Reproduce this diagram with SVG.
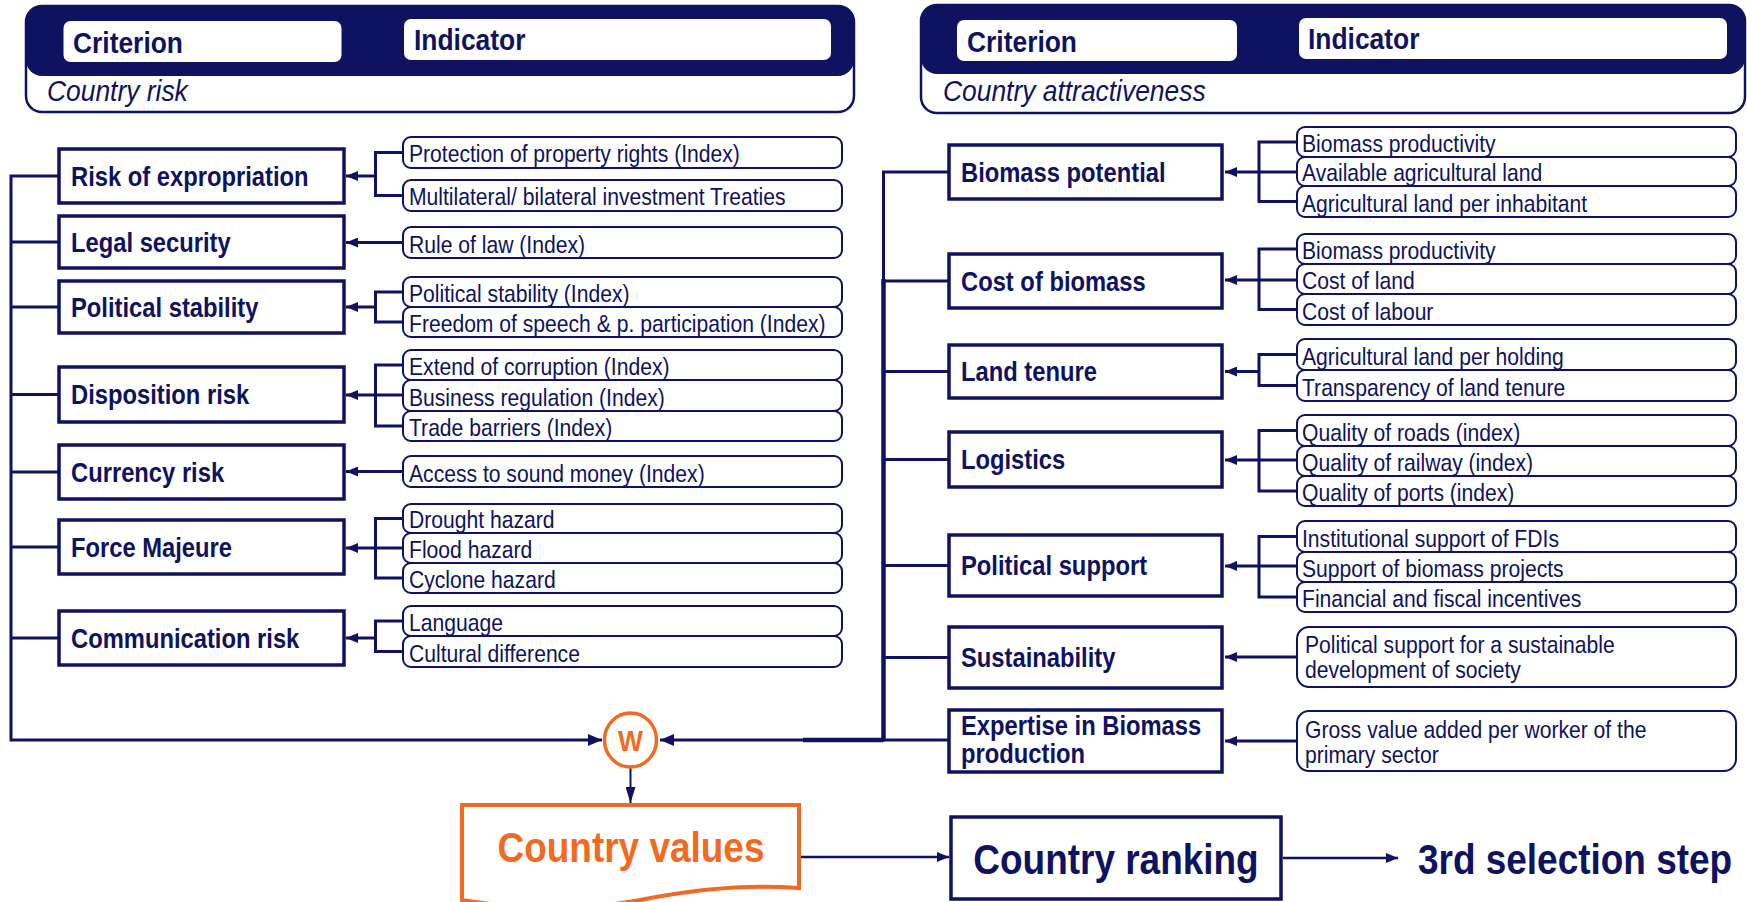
<svg xmlns="http://www.w3.org/2000/svg" width="1747" height="902" viewBox="0 0 1747 902">
<style>
text { font-family: "Liberation Sans", Arial, sans-serif; fill: #0E1260; transform-box: fill-box; transform-origin: 0% 50%; transform: scaleX(0.88); }
text.c { transform-origin: 50% 50%; text-anchor: middle; }
.hd { font-size: 30px; font-weight: bold; }
.it { font-size: 30px; font-style: italic; }
.cr { font-size: 27px; font-weight: bold; }
.in { font-size: 24px; }
.big { font-size: 42px; font-weight: bold; }
.wt { font-size: 30px; font-weight: bold; }
.or { fill: #F26A21; }
.crit rect { fill: #fff; stroke: #0E1260; stroke-width: 3.5; }
.ind rect { fill: #fff; stroke: #0E1260; stroke-width: 2; }
.con path { fill: none; stroke: #0E1260; stroke-width: 3; }
</style>
<defs>
<marker id="ah" viewBox="0 0 12 10" refX="12" refY="5" markerWidth="12" markerHeight="10" markerUnits="userSpaceOnUse" orient="auto"><path d="M0,0 L12,5 L0,10 z" fill="#0E1260"/></marker>
<marker id="ah2" viewBox="0 0 14 12" refX="14" refY="6" markerWidth="14" markerHeight="12" markerUnits="userSpaceOnUse" orient="auto"><path d="M0,0 L14,6 L0,12 z" fill="#0E1260"/></marker>
<marker id="ah3" viewBox="0 0 10 16" refX="5" refY="16" markerWidth="10" markerHeight="16" markerUnits="userSpaceOnUse" orient="0"><path d="M0,0 L10,0 L5,16 z" fill="#0E1260"/></marker>
</defs>
<rect width="1747" height="902" fill="#fff"/>

<!-- Headers -->
<g id="header-risk">
<rect x="26" y="6" width="828" height="106" rx="16" fill="#fff" stroke="#0E1260" stroke-width="2.5"/>
<rect x="26" y="6" width="828" height="70" rx="16" fill="#0E1260"/>
<rect x="63.5" y="21" width="278" height="41" rx="7" fill="#fff"/>
<rect x="404" y="19" width="427" height="41" rx="7" fill="#fff"/>
<text class="hd" x="73" y="53">Criterion</text>
<text class="hd" x="414" y="50">Indicator</text>
<text class="it" x="47" y="101">Country risk</text>
</g>
<g id="header-attractiveness">
<rect x="921" y="5" width="824" height="108" rx="16" fill="#fff" stroke="#0E1260" stroke-width="2.5"/>
<rect x="921" y="5" width="824" height="69" rx="16" fill="#0E1260"/>
<rect x="957" y="20" width="280" height="41" rx="7" fill="#fff"/>
<rect x="1299" y="18" width="428" height="41" rx="7" fill="#fff"/>
<text class="hd" x="967" y="52">Criterion</text>
<text class="hd" x="1308" y="49">Indicator</text>
<text class="it" x="943" y="101">Country attractiveness</text>
</g>

<!-- Connectors -->
<g id="connectors" class="con">
<path d="M403,152.5 H375.5 V195.5 H403"/>
<path d="M375.5,176 H346" marker-end="url(#ah)"/>
<path d="M403,242.5 H346" marker-end="url(#ah)"/>
<path d="M403,292 H375.5 V322 H403"/>
<path d="M375.5,307 H346" marker-end="url(#ah)"/>
<path d="M403,365 H375.5 V426 H403"/>
<path d="M403,395 H346" marker-end="url(#ah)"/>
<path d="M403,471.5 H346" marker-end="url(#ah)"/>
<path d="M403,518.5 H375.5 V578 H403"/>
<path d="M403,548 H346" marker-end="url(#ah)"/>
<path d="M403,621 H375.5 V651.5 H403"/>
<path d="M375.5,638 H346" marker-end="url(#ah)"/>

<path d="M1297,142 H1259 V201.5 H1297"/>
<path d="M1297,172 H1225" marker-end="url(#ah)"/>
<path d="M1297,249 H1259 V309.5 H1297"/>
<path d="M1297,280 H1225" marker-end="url(#ah)"/>
<path d="M1297,354.5 H1259 V385.5 H1297"/>
<path d="M1259,371.5 H1225" marker-end="url(#ah)"/>
<path d="M1297,430.5 H1259 V491 H1297"/>
<path d="M1297,460 H1225" marker-end="url(#ah)"/>
<path d="M1297,536.5 H1259 V597 H1297"/>
<path d="M1297,566 H1225" marker-end="url(#ah)"/>
<path d="M1297,657 H1225" marker-end="url(#ah)"/>
<path d="M1297,741 H1225" marker-end="url(#ah)"/>

<path d="M59,176 H11 V740 H602" marker-end="url(#ah2)"/>
<path d="M11,242 H59 M11,307 H59 M11,394.5 H59 M11,472 H59 M11,547 H59 M11,638 H59"/>
<path d="M949,172 H883.5 V740 H660" marker-end="url(#ah2)"/>
<path d="M883.5,279 V740" style="stroke-width:4.5"/>
<path d="M803,740 H883.5" style="stroke-width:4.5"/>
<path d="M883.5,281 H949 M883.5,371.5 H949 M883.5,459.5 H949 M883.5,565.5 H949 M883.5,657.5 H949 M883.5,740 H949"/>
<path d="M630.5,768 V803" style="stroke-width:2" marker-end="url(#ah3)"/>
<path d="M799,857 H949" style="stroke-width:2.5" marker-end="url(#ah)"/>
<path d="M1283,858 H1398" style="stroke-width:2.5" marker-end="url(#ah)"/>
</g>

<!-- Left criteria -->
<g id="c-expropriation" class="crit"><rect x="59" y="149" width="285" height="54"/><text class="cr" x="71" y="186">Risk of expropriation</text></g>
<g id="c-legal" class="crit"><rect x="59" y="216" width="285" height="52"/><text class="cr" x="71" y="252">Legal security</text></g>
<g id="c-polstab" class="crit"><rect x="59" y="281" width="285" height="52"/><text class="cr" x="71" y="317">Political stability</text></g>
<g id="c-disposition" class="crit"><rect x="59" y="367" width="285" height="55"/><text class="cr" x="71" y="404.5">Disposition risk</text></g>
<g id="c-currency" class="crit"><rect x="59" y="445" width="285" height="54"/><text class="cr" x="71" y="482">Currency risk</text></g>
<g id="c-force" class="crit"><rect x="59" y="520" width="285" height="54"/><text class="cr" x="71" y="557">Force Majeure</text></g>
<g id="c-communication" class="crit"><rect x="59" y="611" width="285" height="54"/><text class="cr" x="71" y="648">Communication risk</text></g>

<!-- Left indicators -->
<g id="i-property" class="ind"><rect x="403" y="137" width="439" height="31" rx="8"/><text class="in" x="409" y="162.5">Protection of property rights (Index)</text></g>
<g id="i-treaties" class="ind"><rect x="403" y="180" width="439" height="31" rx="8"/><text class="in" x="409" y="205.5">Multilateral/ bilateral investment Treaties</text></g>
<g id="i-rulelaw" class="ind"><rect x="403" y="227" width="439" height="31" rx="8"/><text class="in" x="409" y="253">Rule of law (Index)</text></g>
<g id="i-polstab" class="ind"><rect x="403" y="277" width="439" height="30" rx="8"/><text class="in" x="409" y="302.5">Political stability (Index)</text></g>
<g id="i-freedom" class="ind"><rect x="403" y="307" width="439" height="30" rx="8"/><text class="in" x="409" y="332.5">Freedom of speech &amp; p. participation (Index)</text></g>
<g id="i-corruption" class="ind"><rect x="403" y="350" width="439" height="30" rx="8"/><text class="in" x="409" y="375.5">Extend of corruption (Index)</text></g>
<g id="i-business" class="ind"><rect x="403" y="380" width="439" height="31" rx="8"/><text class="in" x="409" y="406">Business regulation (Index)</text></g>
<g id="i-trade" class="ind"><rect x="403" y="411" width="439" height="30" rx="8"/><text class="in" x="409" y="436.5">Trade barriers (Index)</text></g>
<g id="i-money" class="ind"><rect x="403" y="456" width="439" height="31" rx="8"/><text class="in" x="409" y="482">Access to sound money (Index)</text></g>
<g id="i-drought" class="ind"><rect x="403" y="504" width="439" height="29" rx="8"/><text class="in" x="409" y="528.5">Drought hazard</text></g>
<g id="i-flood" class="ind"><rect x="403" y="533" width="439" height="30" rx="8"/><text class="in" x="409" y="558.5">Flood hazard</text></g>
<g id="i-cyclone" class="ind"><rect x="403" y="563" width="439" height="30" rx="8"/><text class="in" x="409" y="588.5">Cyclone hazard</text></g>
<g id="i-language" class="ind"><rect x="403" y="606" width="439" height="30" rx="8"/><text class="in" x="409" y="631.5">Language</text></g>
<g id="i-cultural" class="ind"><rect x="403" y="636" width="439" height="31" rx="8"/><text class="in" x="409" y="662">Cultural difference</text></g>

<!-- Right criteria -->
<g id="c-biopot" class="crit"><rect x="949" y="145" width="273" height="54"/><text class="cr" x="961" y="182">Biomass potential</text></g>
<g id="c-biocost" class="crit"><rect x="949" y="254" width="273" height="54"/><text class="cr" x="961" y="291">Cost of biomass</text></g>
<g id="c-land" class="crit"><rect x="949" y="345" width="273" height="53"/><text class="cr" x="961" y="381.5">Land tenure</text></g>
<g id="c-logistics" class="crit"><rect x="949" y="432" width="273" height="55"/><text class="cr" x="961" y="469.5">Logistics</text></g>
<g id="c-polsupport" class="crit"><rect x="949" y="535" width="273" height="61"/><text class="cr" x="961" y="575.5">Political support</text></g>
<g id="c-sustain" class="crit"><rect x="949" y="627" width="273" height="61"/><text class="cr" x="961" y="667.5">Sustainability</text></g>
<g id="c-expertise" class="crit"><rect x="949" y="710" width="273" height="62"/><text class="cr" x="961" y="735">Expertise in Biomass</text><text class="cr" x="961" y="763">production</text></g>

<!-- Right indicators -->
<g id="i-bioprod1" class="ind"><rect x="1297" y="127" width="439" height="30" rx="8"/><text class="in" x="1302" y="152.5">Biomass productivity</text></g>
<g id="i-availland" class="ind"><rect x="1297" y="157" width="439" height="29" rx="8"/><text class="in" x="1302" y="181.5">Available agricultural land</text></g>
<g id="i-aginhab" class="ind"><rect x="1297" y="186" width="439" height="31" rx="8"/><text class="in" x="1302" y="212">Agricultural land per inhabitant</text></g>
<g id="i-bioprod2" class="ind"><rect x="1297" y="234" width="439" height="30" rx="8"/><text class="in" x="1302" y="259.5">Biomass productivity</text></g>
<g id="i-costland" class="ind"><rect x="1297" y="264" width="439" height="30" rx="8"/><text class="in" x="1302" y="289.5">Cost of land</text></g>
<g id="i-labour" class="ind"><rect x="1297" y="294" width="439" height="31" rx="8"/><text class="in" x="1302" y="320">Cost of labour</text></g>
<g id="i-agholding" class="ind"><rect x="1297" y="339" width="439" height="31" rx="8"/><text class="in" x="1302" y="365">Agricultural land per holding</text></g>
<g id="i-transparency" class="ind"><rect x="1297" y="370" width="439" height="31" rx="8"/><text class="in" x="1302" y="396">Transparency of land tenure</text></g>
<g id="i-roads" class="ind"><rect x="1297" y="415" width="439" height="31" rx="8"/><text class="in" x="1302" y="441">Quality of roads (index)</text></g>
<g id="i-railway" class="ind"><rect x="1297" y="446" width="439" height="30" rx="8"/><text class="in" x="1302" y="471.5">Quality of railway (index)</text></g>
<g id="i-ports" class="ind"><rect x="1297" y="476" width="439" height="30" rx="8"/><text class="in" x="1302" y="501.5">Quality of ports (index)</text></g>
<g id="i-fdi" class="ind"><rect x="1297" y="521" width="439" height="31" rx="8"/><text class="in" x="1302" y="547">Institutional support of FDIs</text></g>
<g id="i-bioproj" class="ind"><rect x="1297" y="552" width="439" height="30" rx="8"/><text class="in" x="1302" y="577.5">Support of biomass projects</text></g>
<g id="i-fiscal" class="ind"><rect x="1297" y="582" width="439" height="30" rx="8"/><text class="in" x="1302" y="607.5">Financial and fiscal incentives</text></g>
<g id="i-sustdev" class="ind"><rect x="1297" y="627" width="439" height="60" rx="12"/><text class="in" x="1305" y="653.5">Political support for a sustainable</text><text class="in" x="1305" y="678">development of society</text></g>
<g id="i-gva" class="ind"><rect x="1297" y="711" width="439" height="60" rx="12"/><text class="in" x="1305" y="738.5">Gross value added per worker of the</text><text class="in" x="1305" y="763.5">primary sector</text></g>

<!-- Bottom flow -->
<g id="weighting">
<ellipse cx="630.5" cy="740" rx="26" ry="27" fill="#fff" stroke="#F26A21" stroke-width="3.5"/>
<text class="wt c or" x="630.5" y="751">W</text>
</g>
<g id="country-values">
<path d="M462,805 H799 V888 C745,884 690,890 640,900 C590,910 520,910 462,900 Z" fill="#fff" stroke="#F26A21" stroke-width="4"/>
<text class="big c or" x="631" y="862.5">Country values</text>
</g>
<g id="country-ranking">
<rect x="951" y="817" width="330" height="82" fill="#fff" stroke="#0E1260" stroke-width="3.5"/>
<text class="big c" x="1116" y="874.5">Country ranking</text>
</g>
<g id="third-step">
<text class="big" x="1418" y="874.5">3rd selection step</text>
</g>
</svg>
